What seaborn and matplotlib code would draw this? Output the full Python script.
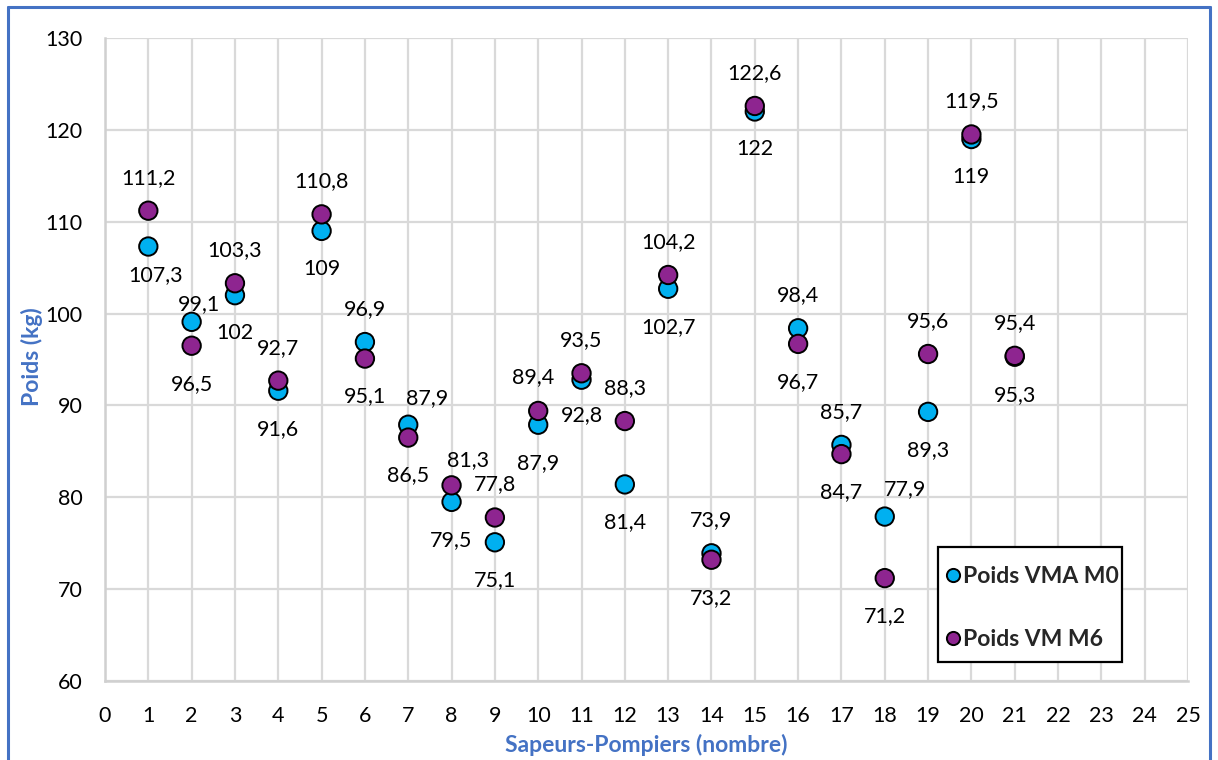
import matplotlib
matplotlib.use("Agg")
import matplotlib.pyplot as plt
import seaborn as sns
import pandas as pd
from matplotlib.lines import Line2D
from matplotlib.patches import Rectangle

# ---------------- data ----------------
pompiers = [1, 2, 3, 4, 5, 6, 7, 8, 9, 10, 11, 12, 13, 14, 15, 16, 17, 18, 19, 20, 21]
poids_vma_m0 = [107.3, 99.1, 102, 91.6, 109, 96.9, 87.9, 79.5, 75.1, 87.9, 92.8,
                81.4, 102.7, 73.9, 122, 98.4, 85.7, 77.9, 89.3, 119, 95.3]
poids_vm_m6 = [111.2, 96.5, 103.3, 92.7, 110.8, 95.1, 86.5, 81.3, 77.8, 89.4, 93.5,
               88.3, 104.2, 73.2, 122.6, 96.7, 84.7, 71.2, 95.6, 119.5, 95.4]
series_names = ["Poids VMA M0", "Poids VM M6"]
x_ticks = [0, 1, 2, 3, 4, 5, 6, 7, 8, 9, 10, 11, 12, 13, 14, 15, 16, 17, 18, 19, 20, 21, 22, 23, 24, 25]
y_ticks = [60, 70, 80, 90, 100, 110, 120, 130]
x_label = "Sapeurs-Pompiers (nombre)"
y_label = "Poids (kg)"

# ---------------- styling ----------------
colors = {"Poids VMA M0": "#00B0F0", "Poids VM M6": "#8E2590"}
axis_blue = "#4472C4"
FONT = ["Lato", "DejaVu Sans"]

df = pd.DataFrame({
    "x": pompiers + pompiers,
    "poids": poids_vma_m0 + poids_vm_m6,
    "serie": [series_names[0]] * len(pompiers) + [series_names[1]] * len(pompiers),
})

sns.set_theme(style="white")
plt.rcParams["font.family"] = FONT

W, H, DPI = 1218, 760, 100
AX_L, AX_R, AX_T, AX_B = 105, 1188, 38, 681
fig = plt.figure(figsize=(W / DPI, H / DPI), dpi=DPI)
ax = fig.add_axes([AX_L / W, 1 - AX_B / H, (AX_R - AX_L) / W, (AX_B - AX_T) / H])


def axfrac(px, py):
    return (px - AX_L) / (AX_R - AX_L), (AX_B - py) / (AX_B - AX_T)


sns.scatterplot(data=df, x="x", y="poids", hue="serie", palette=colors,
                s=175, edgecolor="black", linewidth=1.4, ax=ax, zorder=3,
                legend=True)

ax.set_xlim(0, 25)
ax.set_ylim(60, 130)
ax.set_xticks(x_ticks)
ax.set_yticks(y_ticks)
ax.tick_params(axis="both", length=0, labelsize=15.5, labelcolor="black")
ax.tick_params(axis="x", pad=18)
ax.tick_params(axis="y", pad=16)
ax.grid(True, color="#D9D9D9", linewidth=1.6, zorder=0)
ax.set_axisbelow(True)
for side in ["top", "right"]:
    ax.spines[side].set_visible(False)
for side in ["left", "bottom"]:
    ax.spines[side].set_color("#D0D0D0")
    ax.spines[side].set_linewidth(1.8)

ax.set_xlabel(x_label, fontsize=16.5, fontweight="bold", color=axis_blue, labelpad=6)
ax.set_ylabel(y_label, fontsize=16.5, fontweight="bold", color=axis_blue)
ax.yaxis.set_label_coords(*axfrac(43, 357))

# ---------------- data labels ----------------
def fmt(v):
    return f"{v:g}".replace(".", ",")

ABOVE = (0, -33)
BELOW = (0, 38)
overrides = {
    (0, 0): (7, 29), (0, 1): (7, -18), (0, 6): (19, -27), (0, 10): (0, 35),
    (0, 17): (20, -27), (1, 7): (17, -25), (1, 9): (-5, -34),
}
for si, vals in enumerate([poids_vma_m0, poids_vm_m6]):
    other = [poids_vm_m6, poids_vma_m0][si]
    for i, (xv, v) in enumerate(zip(pompiers, vals)):
        dx, dy = overrides.get((si, i), ABOVE if v > other[i] else BELOW)
        ax.annotate(fmt(v), (xv, v), xytext=(dx, -dy), textcoords="offset pixels",
                    ha="center", va="center", fontsize=15.5, color="black", zorder=4)

# ---------------- legend ----------------
x0, y0 = axfrac(938, 662)
x1, y1 = axfrac(1122, 547)
ax.add_patch(Rectangle((x0, y0), x1 - x0, y1 - y0, transform=ax.transAxes,
                       facecolor="white", edgecolor="black", linewidth=1.6,
                       zorder=5, clip_on=False))
handles = [Line2D([0], [0], marker="o", linestyle="none", markersize=9.5,
                  markerfacecolor=colors[n], markeredgecolor="black",
                  markeredgewidth=1.4) for n in series_names]
leg = ax.legend(handles, series_names, loc="upper left",
                bbox_to_anchor=axfrac(946, 566),
                frameon=False, prop={"weight": "bold", "size": 16.5},
                labelspacing=1.85, handletextpad=0.15, handlelength=0.6,
                borderpad=0, borderaxespad=0)
leg.set_zorder(6)

# ---------------- figure border ----------------
bx0, bx1, by1 = 8 / W, 1210 / W, 1 - 7 / H
fig.add_artist(Line2D([bx0, bx0], [0, by1], color=axis_blue, lw=2.2, transform=fig.transFigure))
fig.add_artist(Line2D([bx1, bx1], [0, by1], color=axis_blue, lw=2.2, transform=fig.transFigure))
fig.add_artist(Line2D([bx0, bx1], [by1, by1], color=axis_blue, lw=2.2, transform=fig.transFigure))

fig.savefig("out.png", dpi=DPI, facecolor="white")
